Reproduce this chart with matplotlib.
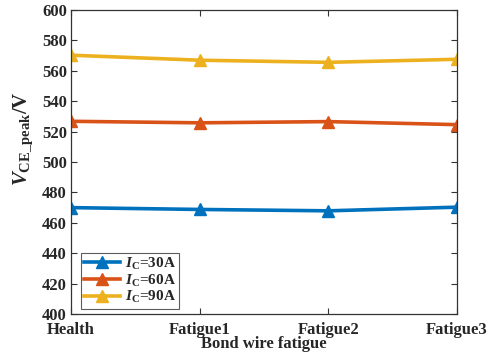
import matplotlib
matplotlib.use('Agg')
import matplotlib.pyplot as plt

plt.rcParams['font.family'] = 'Liberation Serif'
plt.rcParams['font.weight'] = 'bold'
plt.rcParams['mathtext.fontset'] = 'custom'
plt.rcParams['mathtext.rm'] = 'Liberation Serif:bold'
plt.rcParams['mathtext.bf'] = 'Liberation Serif:bold'
plt.rcParams['mathtext.it'] = 'Liberation Serif:italic:bold'

states = ['Health', 'Fatigue1', 'Fatigue2', 'Fatigue3']
v_30a = [470.0, 468.8, 467.9, 470.3]
v_60a = [526.8, 525.8, 526.6, 524.6]
v_90a = [570.3, 567.0, 565.6, 567.6]
labels = [r'$I_{\rm C}$=30A', r'$I_{\rm C}$=60A', r'$I_{\rm C}$=90A']
colors = ['#0072BD', '#D95319', '#EDB120']

fig = plt.figure(figsize=(5.01, 3.59), dpi=100)
ax = fig.add_axes([0.1417, 0.1253, 0.7703, 0.8467])

x = range(len(states))
for ys, lab, c in zip([v_30a, v_60a, v_90a], labels, colors):
    ax.plot(x, ys, '-^', color=c, lw=2.6, ms=9, label=lab)

ax.set_xlim(0, 3)
ax.set_ylim(400, 600)
ax.set_xticks(list(x))
ax.set_xticklabels(states)
ax.set_yticks(range(400, 601, 20))
ax.tick_params(direction='in', top=True, right=True, labelsize=12, length=4, color='#333333')
ax.tick_params(axis='x', pad=6)
ax.tick_params(axis='y', pad=3)
for s in ax.spines.values():
    s.set_color('#333333')
    s.set_linewidth(0.9)
for t in ax.get_xticklabels() + ax.get_yticklabels():
    t.set_fontweight('bold')
    t.set_color('#262626')

ax.set_xlabel('Bond wire fatigue', fontsize=12, fontweight='bold', labelpad=-2, color='#262626')
ax.set_ylabel(r'$V_{\rm CE\_peak}$/V', fontsize=15, fontweight='bold', color='#262626')
ax.yaxis.set_label_coords(-0.093, 0.576)

leg = ax.legend(loc='lower left', bbox_to_anchor=(0.025, 0.018), fontsize=11,
                fancybox=False, edgecolor='#333333',
                handlelength=2.4, borderpad=0.2, labelspacing=0.05, handletextpad=0.3,
                borderaxespad=0.0)
leg.get_frame().set_linewidth(0.8)
for t in leg.get_texts():
    t.set_color('#262626')

plt.savefig('out.png', dpi=100)
